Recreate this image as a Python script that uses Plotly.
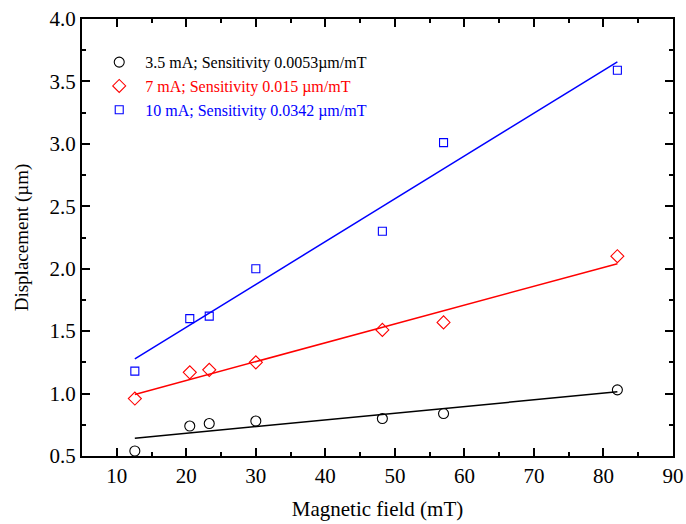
import numpy as np
import plotly.graph_objects as go

field = [12.6, 20.5, 23.3, 30.0, 48.2, 57.0, 82.0]
disp_35 = [0.54, 0.74, 0.76, 0.78, 0.80, 0.84, 1.03]
disp_7 = [0.96, 1.17, 1.19, 1.25, 1.51, 1.57, 2.10]
disp_10 = [1.18, 1.60, 1.62, 2.00, 2.30, 3.01, 3.59]

names = ["3.5 mA; Sensitivity 0.0053µm/mT",
         "7 mA; Sensitivity 0.015 µm/mT",
         "10 mA; Sensitivity 0.0342 µm/mT"]
colors = ["#000000", "#ff0000", "#0000ff"]
symbols = ["circle-open", "diamond-open", "square-open"]
sizes = [10, 10, 8]

fig = go.Figure()
for ys, nm, c, s, sz in zip([disp_35, disp_7, disp_10], names, colors, symbols, sizes):
    fig.add_trace(go.Scatter(
        x=field, y=ys, mode="markers",
        name=f"<span style='color:{c}'>{nm}</span>",
        marker=dict(symbol=s, size=sz, color=c, line=dict(width=1.1, color=c)),
    ))
for ys, c in zip([disp_35, disp_7, disp_10], colors):
    k, b = np.polyfit(field, ys, 1)
    xf = [min(field), max(field)]
    fig.add_trace(go.Scatter(
        x=xf, y=[k * v + b for v in xf], mode="lines",
        line=dict(color=c, width=1.5), showlegend=False, hoverinfo="skip",
    ))

axis_common = dict(
    showgrid=False, zeroline=False, showline=True, linecolor="black", linewidth=2,
    mirror="allticks", ticks="inside", ticklen=8, tickwidth=2, tickcolor="black",
    tickfont=dict(family="Liberation Serif", size=21, color="black"),
    automargin=False,
)
fig.update_xaxes(
    range=[5, 90], tick0=10, dtick=10,
    minor=dict(ticks="inside", ticklen=4, tickwidth=2, tickcolor="black", dtick=5, tick0=5),
    title=dict(text="Magnetic field (mT)", font=dict(family="Liberation Serif", size=21, color="black"), standoff=14),
    **axis_common,
)
fig.update_yaxes(
    range=[0.5, 4.0], dtick=0.5, tickformat=".1f",
    minor=dict(ticks="inside", ticklen=4, tickwidth=2, tickcolor="black", dtick=0.25, tick0=0.25),
    title=dict(text="Displacement (µm)", font=dict(family="Liberation Serif", size=19, color="black"), standoff=16),
    **axis_common,
)
fig.update_layout(
    width=686, height=524,
    margin=dict(l=82, r=13, t=19, b=68),
    plot_bgcolor="white", paper_bgcolor="white",
    showlegend=True,
    legend=dict(x=0.019, y=0.94, xanchor="left", yanchor="top", tracegroupgap=0,
                bgcolor="rgba(0,0,0,0)", font=dict(family="Liberation Serif", size=16, color="black"),
                itemwidth=42),
)
fig.write_html("out.html", config={"displayModeBar": False},
               post_script="document.body.style.margin='0';")
